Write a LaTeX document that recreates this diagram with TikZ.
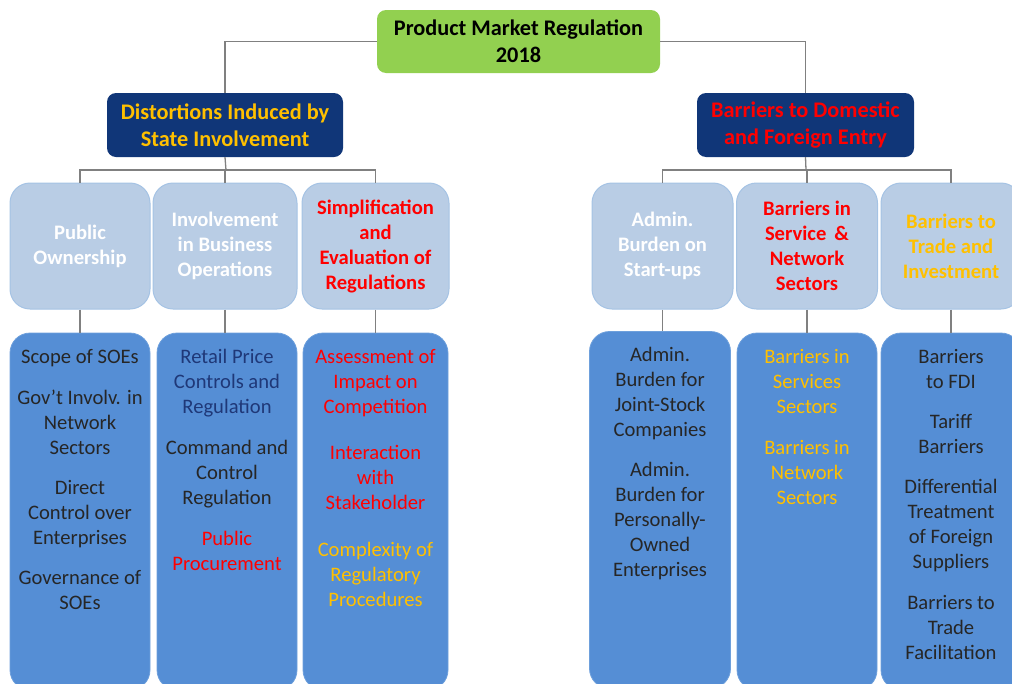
\documentclass[tikz,border=0pt]{standalone}
\usepackage{fontspec}
\setmainfont{Carlito}
\definecolor{rootgreen}{RGB}{146,208,80}
\definecolor{navybox}{RGB}{16,54,120}
\definecolor{paleblue}{RGB}{185,205,229}
\definecolor{paleedge}{RGB}{165,195,228}
\definecolor{leafblue}{RGB}{85,142,213}
\definecolor{leafedge}{RGB}{110,160,220}
\definecolor{linkgray}{RGB}{128,128,128}
\definecolor{goldtext}{RGB}{255,192,0}
\definecolor{redtext}{RGB}{255,0,0}
\definecolor{darktext}{RGB}{38,38,38}
\definecolor{navytext}{RGB}{31,56,120}

\begin{document}
\begin{tikzpicture}[x=1pt,y=1pt,yscale=-1,
  link/.style={draw=linkgray, line width=1.3pt},
  rootbox/.style={rounded corners=9pt, fill=rootgreen, align=center,
    font=\bfseries\fontsize{22.3}{27}\selectfont, text=black},
  mainbox/.style={rounded corners=9pt, fill=navybox, align=center,
    minimum height=64pt, font=\bfseries\fontsize{22.3}{27}\selectfont},
  subbox/.style={rounded corners=20pt, fill=paleblue, draw=paleedge, line width=1pt,
    minimum height=126pt, align=center, font=\bfseries\fontsize{20.6}{25}\selectfont},
  leafbox/.style={rounded corners=20pt, fill=leafblue, draw=leafedge, line width=0.8pt,
    minimum width=140pt, minimum height=357pt},
  leaftext/.style={anchor=north, align=center, inner sep=0pt,
    font=\fontsize{20.6}{25}\selectfont, text=darktext}]
\useasboundingbox (0,0) rectangle (1012,683);
\clip (0,0) rectangle (1012,683);

% top level
\node[rootbox, minimum width=283pt, minimum height=63pt] (root) at (518.5,41.5) {Product Market Regulation\\2018};

% two branches
\node[mainbox, minimum width=236pt, text=goldtext] (dsi) at (225,125) {Distortions Induced by\\State Involvement};
\node[mainbox, minimum width=217pt, text=redtext] (bdfe) at (805.5,125) {Barriers to Domestic\\and Foreign Entry};

\draw[link] (root.west) -| (dsi.north);
\draw[link] (root.east) -| (bdfe.north);

% sub-areas, left
\node[subbox, minimum width=140pt, text=white] (po) at (80,246) {Public\\Ownership};
\node[subbox, minimum width=144pt, text=white] (ibo) at (225,246) {Involvement\\in Business\\Operations};
\node[subbox, minimum width=147pt, text=redtext] (ser) at (375.5,246) {Simplification\\and\\Evaluation of\\Regulations};

% sub-areas, right
\node[subbox, minimum width=141pt, text=white] (abs) at (662.5,246) {Admin.\\Burden on\\Start-ups};
\node[subbox, minimum width=141pt, text=redtext] (bsn) at (807,246) {Barriers in\\Service \,\&\\Network\\Sectors};
\node[subbox, minimum width=140pt, text=goldtext] (bti) at (951,246) {Barriers to\\Trade and\\Investment};

\coordinate (busl) at (226,170);
\coordinate (busr) at (806,170);
\draw[link] (dsi.south) -- (busl);
\draw[link] (po.north) |- (busl) -| (ser.north);
\draw[link] (ibo.north) -- (ibo.north |- busl);
\draw[link] (bdfe.south) -- (busr);
\draw[link] (abs.north) |- (busr) -| (bti.north);
\draw[link] (bsn.north) -- (bsn.north |- busr);

% leaf boxes
\node[leafbox] (lpo) at (80,511.5) {};
\node[leafbox] (libo) at (227,511.5) {};
\node[leafbox, minimum width=145pt] (lser) at (375.5,511.5) {};
\node[leafbox, minimum width=141pt] (labs) at (660,510) {};
\node[leafbox] (lbsn) at (807,511.5) {};
\node[leafbox] (lbti) at (951,511.5) {};

\draw[link] (po.south) -- (lpo.north);
\draw[link] (ibo.south) -- (ibo.south |- libo.north);
\draw[link] (ser.south) -- (lser.north);
\draw[link] (abs.south) -- (abs.south |- labs.north);
\draw[link] (bsn.south) -- (lbsn.north);
\draw[link] (bti.south) -- (lbti.north);

% leaf texts
\node[leaftext] (tpo) at (80,349) {Scope of SOEs\\[16pt]Gov’t Involv. in\\Network\\Sectors\\[15pt]Direct\\Control over\\Enterprises\\[15pt]Governance of\\SOEs};
\node[leaftext] (tibo) at (227,349) {\color{navytext}Retail Price\\\color{navytext}Controls and\\\color{navytext}Regulation\\[16pt]Command and\\Control\\Regulation\\[16pt]\color{redtext}Public\\\color{redtext}Procurement};
\node[leaftext, text=redtext] (tser) at (375.5,349) {Assessment of\\Impact on\\Competition\\[21pt]Interaction\\with\\Stakeholder\\[22pt]\color{goldtext}Complexity of\\\color{goldtext}Regulatory\\\color{goldtext}Procedures};
\node[leaftext] (tabs) at (660,347) {Admin.\\Burden for\\Joint-Stock\\Companies\\[15pt]Admin.\\Burden for\\Personally-\\Owned\\Enterprises};
\node[leaftext, text=goldtext] (tbsn) at (807,349) {Barriers in\\Services\\Sectors\\[16pt]Barriers in\\Network\\Sectors};
\node[leaftext] (tbti) at (951,349) {Barriers\\to FDI\\[15pt]Tariff\\Barriers\\[15pt]Differential\\Treatment\\of Foreign\\Suppliers\\[16pt]Barriers to\\Trade\\Facilitation};
\end{tikzpicture}
\end{document}
